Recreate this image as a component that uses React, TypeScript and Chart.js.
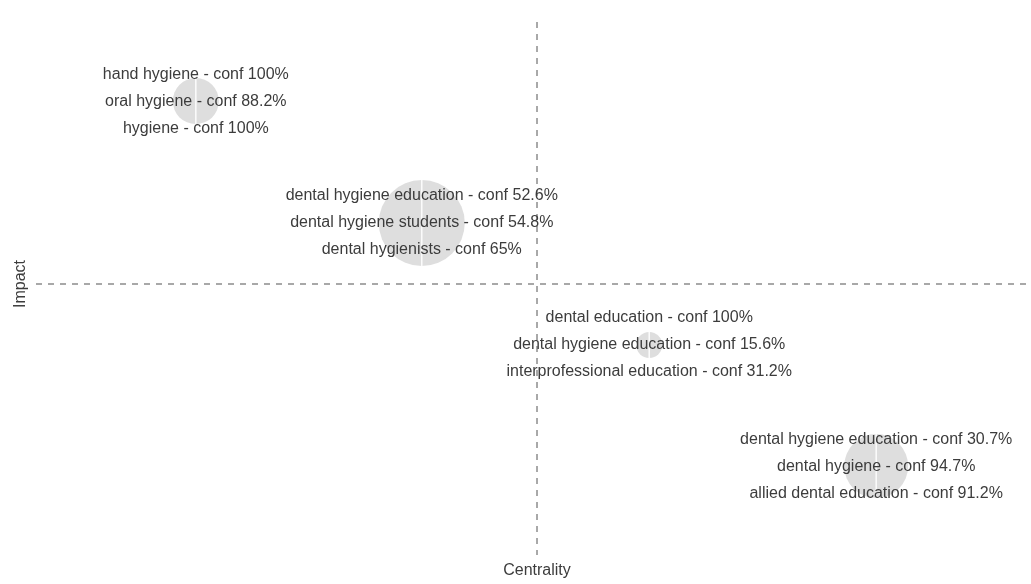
import React, { useEffect, useRef } from "react";
import { Chart, registerables } from "chart.js";

Chart.register(...registerables);

// Cluster positions (centrality = x, impact = y; quadrant lines at 0)
const centrality = [-0.681, -0.23, 0.224, 0.677];
const impact = [0.675, 0.225, -0.225, -0.672];
const bubbleSize = [23, 43, 13, 32];
const clusterLabels: string[][] = [
  ["hand hygiene - conf 100%", "oral hygiene - conf 88.2%", "hygiene - conf 100%"],
  [
    "dental hygiene education - conf 52.6%",
    "dental hygiene students - conf 54.8%",
    "dental hygienists - conf 65%",
  ],
  [
    "dental education - conf 100%",
    "dental hygiene education - conf 15.6%",
    "interprofessional education - conf 31.2%",
  ],
  [
    "dental hygiene education - conf 30.7%",
    "dental hygiene - conf 94.7%",
    "allied dental education - conf 91.2%",
  ],
];
const xTitle = "Centrality";
const yTitle = "Impact";
const xMid = 0;
const yMid = 0;

const FONT = '"Liberation Sans", Arial, Helvetica, sans-serif';

const mapPlugin = {
  id: "thematicMap",
  beforeDatasetsDraw(chart: any) {
    const { ctx, chartArea, scales } = chart;
    const xp = scales.x.getPixelForValue(xMid);
    const yp = scales.y.getPixelForValue(yMid);
    ctx.save();
    ctx.strokeStyle = "#8c8c8c";
    ctx.lineWidth = 1.5;
    ctx.setLineDash([6, 6]);
    ctx.beginPath();
    ctx.moveTo(xp, chartArea.top);
    ctx.lineTo(xp, chartArea.bottom);
    ctx.moveTo(chartArea.left, yp);
    ctx.lineTo(chartArea.right, yp);
    ctx.stroke();
    ctx.restore();
  },
  afterDatasetsDraw(chart: any) {
    const { ctx, chartArea, scales } = chart;
    const meta = chart.getDatasetMeta(0);
    ctx.save();
    meta.data.forEach((el: any, i: number) => {
      const r = bubbleSize[i];
      ctx.strokeStyle = "rgba(255,255,255,0.9)";
      ctx.lineWidth = 1.5;
      ctx.beginPath();
      ctx.moveTo(el.x, el.y - r);
      ctx.lineTo(el.x, el.y + r);
      ctx.stroke();
    });
    ctx.fillStyle = "#3c3c3c";
    ctx.font = `16px ${FONT}`;
    ctx.textAlign = "center";
    ctx.textBaseline = "middle";
    meta.data.forEach((el: any, i: number) => {
      const lines = clusterLabels[i];
      lines.forEach((t, j) => {
        ctx.fillText(t, el.x, el.y + (j - (lines.length - 1) / 2) * 27);
      });
    });
    // axis titles
    const xp = scales.x.getPixelForValue(xMid);
    const yp = scales.y.getPixelForValue(yMid);
    ctx.fillStyle = "#3c3c3c";
    ctx.font = `16px ${FONT}`;
    ctx.fillText(xTitle, xp, chartArea.bottom + 16);
    ctx.translate(chartArea.left - 15, yp);
    ctx.rotate(-Math.PI / 2);
    ctx.fillText(yTitle, 0, 0);
    ctx.restore();
  },
};

export default function App() {
  const ref = useRef<HTMLCanvasElement | null>(null);
  useEffect(() => {
    if (!ref.current) return;
    const chart = new Chart(ref.current, {
      type: "bubble",
      data: {
        datasets: [
          {
            label: "clusters",
            data: centrality.map((x, i) => ({ x, y: impact[i], r: bubbleSize[i] })),
            backgroundColor: "rgba(200,200,200,0.6)",
            borderWidth: 0,
            hoverBorderWidth: 0,
          },
        ],
      },
      options: {
        responsive: false,
        animation: false,
        clip: false as any,
        layout: { autoPadding: false, padding: { left: 36, right: 0, top: 22, bottom: 29 } },
        scales: {
          x: { type: "linear", min: -1, max: 0.986, display: false },
          y: { type: "linear", min: -1, max: 0.967, display: false },
        },
        plugins: {
          legend: { display: false },
          tooltip: { enabled: false },
        },
      },
      plugins: [mapPlugin],
    });
    return () => chart.destroy();
  }, []);
  return (
    <div style={{ position: "fixed", left: 0, top: 0, width: 1031, height: 584, background: "#ffffff" }}>
      <canvas ref={ref} width={1031} height={584} style={{ width: 1031, height: 584, display: "block" }} />
    </div>
  );
}
